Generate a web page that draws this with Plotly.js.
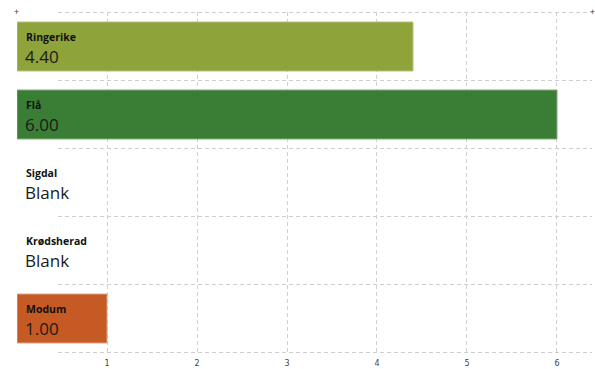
<!DOCTYPE html>
<html><head><meta charset="utf-8">
<script src="https://cdn.plot.ly/plotly-3.0.1.min.js"></script>
<style>html,body{margin:0;padding:0;background:#fff}#c{width:595px;height:369px}</style>
</head><body><div id="c"></div>
<script>
const categories = ["Ringerike", "Flå", "Sigdal", "Krødsherad", "Modum"];
const values = [4.40, 6.00, null, null, 1.00];
const colors = ["#8FA33B", "#3A7D34", "#ffffff", "#ffffff", "#C55A25"];
const edgeColors = ["#B4C27A", "#7FAA7A", "#ffffff", "#ffffff", "#E0A080"];
const tickVals = [1, 2, 3, 4, 5, 6];
const tickText = ["1", "2", "3", "4", "5", "6"];

const trace = {
  type: "bar", orientation: "h",
  x: values, y: categories,
  marker: {color: colors, line: {color: edgeColors, width: 1}},
  width: 0.72, hoverinfo: "none"
};

const annotations = [];
categories.forEach((c, i) => {
  annotations.push({x: 0, y: c, xref: "x", yref: "y", text: "<b>" + c + "</b>",
    showarrow: false, xanchor: "left", yanchor: "middle", xshift: 7, yshift: 9.5,
    font: {family: "Open Sans", size: 10.5, color: "#111", weight: 800}});
  const v = values[i];
  annotations.push({x: 0, y: c, xref: "x", yref: "y", text: v == null ? "Blank" : v.toFixed(2),
    showarrow: false, xanchor: "left", yanchor: "middle", xshift: 6, yshift: -9.5,
    font: {family: "Open Sans", size: 17, color: "#1a1a1a", weight: 400}});
});
annotations.push({x: 0, y: 1, xref: "paper", yref: "paper", text: "+", showarrow: false,
  xanchor: "center", yanchor: "middle", xshift: -1, yshift: 1, font: {size: 9, color: "#333"}});
annotations.push({x: 1, y: 1, xref: "paper", yref: "paper", text: "+", showarrow: false,
  xanchor: "center", yanchor: "middle", xshift: 0, yshift: 1, font: {size: 9, color: "#333"}});

const shapes = [];
for (let k = 0; k <= categories.length; k++) {
  shapes.push({type: "line", xref: "paper", yref: "y", x0: 0.0713, x1: 1, y0: k - 0.5, y1: k - 0.5,
    line: {color: "#cfcfcf", width: 1, dash: "4px,3px"}});
}

const layout = {
  width: 595, height: 369,
  margin: {l: 17, r: 3, t: 12, b: 16},
  paper_bgcolor: "#fff", plot_bgcolor: "#fff",
  showlegend: false,
  xaxis: {range: [0, 6.389], tickvals: tickVals, ticktext: tickText, showgrid: true,
    gridcolor: "rgba(200,200,200,0.85)", griddash: "4px,3px", gridwidth: 1, zeroline: false,
    showline: false, ticks: "", layer: "above traces", ticklabelstandoff: 4,
    tickfont: {family: "DejaVu Sans", size: 8, color: "#444"}},
  yaxis: {autorange: "reversed", showgrid: false, showticklabels: false, ticks: "",
    zeroline: false, showline: false, range: [4.5, -0.5]},
  shapes: shapes,
  annotations: annotations
};
Plotly.newPlot("c", [trace], layout, {displayModeBar: false, staticPlot: true});
</script></body></html>
